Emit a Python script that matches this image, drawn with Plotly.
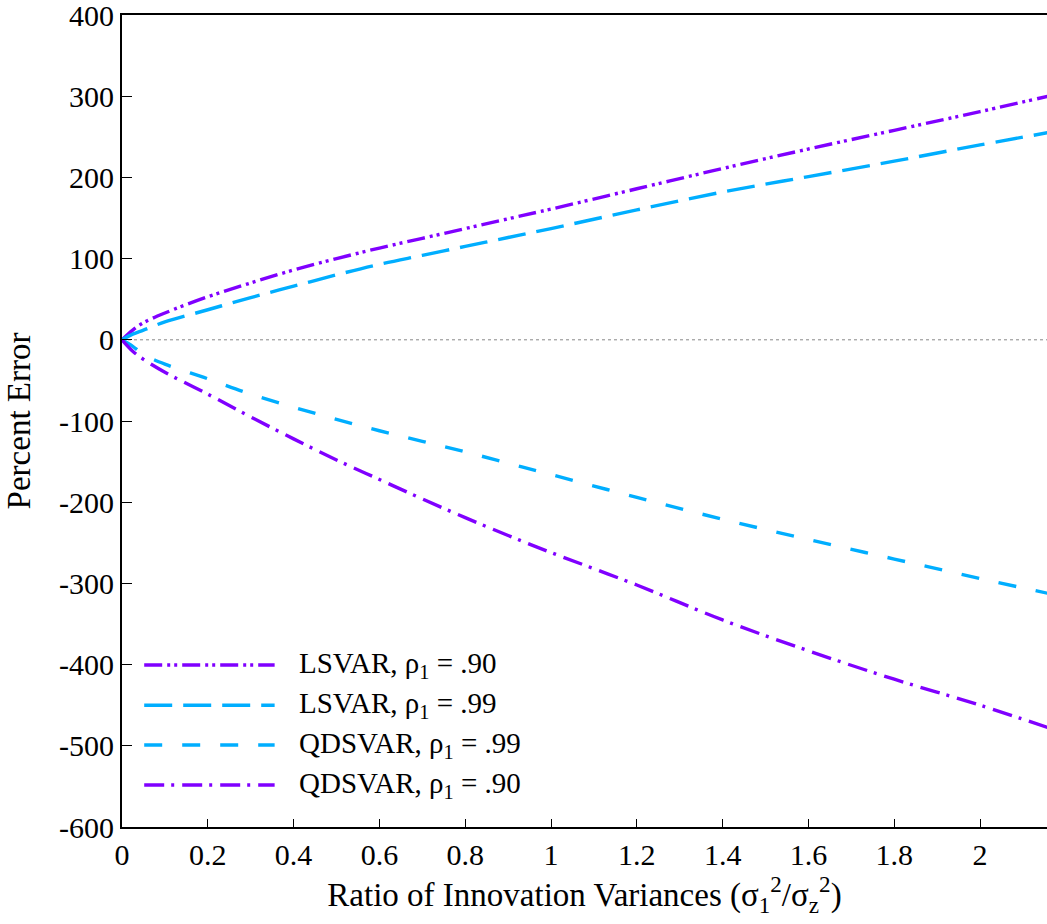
import plotly.graph_objects as go

x_vals = [0, 0.025, 0.05, 0.1, 0.2, 0.3, 0.4, 0.5, 0.6, 0.7, 0.8, 0.9, 1.0, 1.2, 1.4, 1.6, 1.8, 2.0, 2.2]

lsvar_90 = [0, 12, 21, 33, 53, 70, 86, 100, 113, 125, 137, 149, 161, 186, 211, 235, 258, 281, 305]
lsvar_99 = [0, 7, 12, 22, 37, 52, 66, 80, 93, 104, 115, 126, 137, 160, 182, 201, 220, 240, 259]
qdsvar_99 = [0, -8, -18, -30, -48, -67, -83, -98, -112, -125, -138, -152, -166, -194, -221, -246, -270, -294, -317]
qdsvar_90 = [0, -14, -24, -40, -67, -95, -122, -148, -172, -196, -219, -241, -262, -302, -345, -383, -418, -450, -485]

series_names = ["LSVAR, ρ<sub>1</sub> = .90", "LSVAR, ρ<sub>1</sub> = .99",
                "QDSVAR, ρ<sub>1</sub> = .99", "QDSVAR, ρ<sub>1</sub> = .90"]
series_values = [lsvar_90, lsvar_99, qdsvar_99, qdsvar_90]

PURPLE = "#8000FF"
BLUE = "#00AEFF"
colors = [PURPLE, BLUE, BLUE, PURPLE]
dashes = ["18px,5px,3px,4px,3px,5px", "28px,11px", "18px,20px", "20px,7px,3px,8px"]

x_ticks = [0, 0.2, 0.4, 0.6, 0.8, 1, 1.2, 1.4, 1.6, 1.8, 2]
x_tick_text = ["0", "0.2", "0.4", "0.6", "0.8", "1", "1.2", "1.4", "1.6", "1.8", "2"]
y_ticks = [-600, -500, -400, -300, -200, -100, 0, 100, 200, 300, 400]
y_tick_text = ["-600", "-500", "-400", "-300", "-200", "-100", "0", "100", "200", "300", "400"]

FONT = "Liberation Serif, Times New Roman, serif"

fig = go.Figure()
for name, vals, c, d in zip(series_names, series_values, colors, dashes):
    fig.add_trace(go.Scatter(x=x_vals, y=vals, mode="lines", name=name,
                             line=dict(color=c, width=3.4, dash=d, shape="spline"),
                             showlegend=False))

# zero reference line (dotted)
fig.add_shape(type="line", xref="paper", yref="y", x0=0, x1=1, y0=0, y1=0,
              line=dict(color="#888888", width=1, dash="dot"), layer="below")

# manual legend
leg_y = [0.1995, 0.150, 0.101, 0.0517]
for name, c, d, yy in zip(series_names, colors, dashes, leg_y):
    fig.add_shape(type="line", xref="paper", yref="paper", x0=0.024, x1=0.165, y0=yy, y1=yy,
                  line=dict(color=c, width=3.4, dash=d))
    fig.add_annotation(xref="paper", yref="paper", x=0.189, y=yy, text=name, showarrow=False,
                       xanchor="left", yanchor="middle", font=dict(family=FONT, size=29, color="black"))

fig.update_layout(
    width=1047, height=924,
    margin=dict(l=122, r=0, t=15, b=97, autoexpand=False),
    paper_bgcolor="white", plot_bgcolor="white",
    font=dict(family=FONT, size=30, color="black"),
    xaxis=dict(range=[0, 2.156], tickvals=x_ticks, ticktext=x_tick_text, ticks="inside",
               ticklen=8, tickwidth=1, tickcolor="black", showline=True, linecolor="black",
               linewidth=2, mirror=True, showgrid=False, zeroline=False, automargin=False,
               tickfont=dict(family=FONT, size=30), ticklabeloverflow="allow",
               title=dict(text="Ratio of Innovation Variances (σ<sub>1</sub><sup>2</sup>/σ<sub>z</sub><sup>2</sup>)",
                          font=dict(family=FONT, size=33), standoff=2)),
    yaxis=dict(range=[-600, 400], tickvals=y_ticks, ticktext=y_tick_text, ticks="inside",
               ticklen=10, tickwidth=1, ticklabelstandoff=0, ticklabeloverflow="allow",
               tickfont=dict(family=FONT, size=30),
               tickcolor="black", showline=True, linecolor="black", linewidth=2, mirror=False,
               showgrid=False, zeroline=False, automargin=False,
               title=dict(text="Percent Error", font=dict(family=FONT, size=33), standoff=18)),
)

fig.write_html("out.html", config={"displayModeBar": False},
               post_script="document.body.style.margin='0';document.body.style.overflow='hidden';")
